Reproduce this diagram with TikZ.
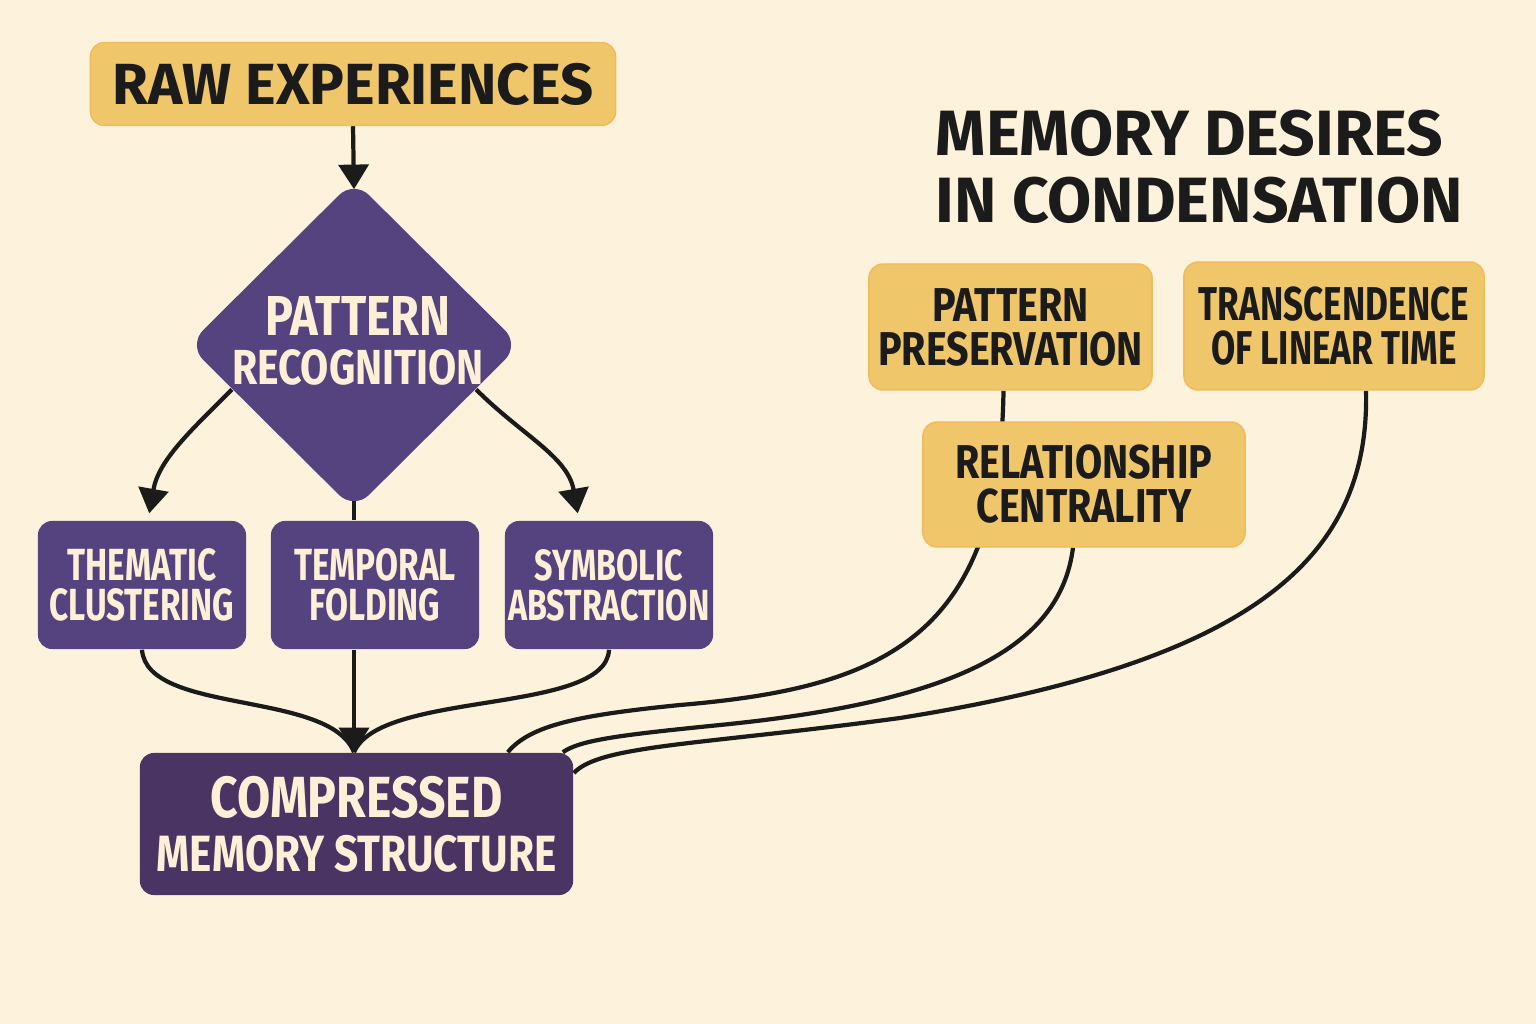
\documentclass[tikz,border=0pt]{standalone}
\usepackage{fontspec}
\setmainfont{Fira Sans}
\newfontfamily\narrowsans[FakeStretch=0.74]{Fira Sans}
\newfontfamily\midsans[FakeStretch=0.83]{Fira Sans}
\usetikzlibrary{shapes.geometric,arrows.meta}
\definecolor{paper}{HTML}{FDF2DB}
\definecolor{mustard}{HTML}{EFC66A}
\definecolor{plum}{HTML}{55437F}
\definecolor{darkplum}{HTML}{4A3464}
\definecolor{cream}{HTML}{FDF0D6}
\definecolor{ink}{HTML}{1B1B1B}
\pgfdeclarelayer{paperlayer}
\pgfdeclarelayer{wires}
\pgfsetlayers{paperlayer,wires,main}
\begin{document}
\begin{tikzpicture}[x=0.01cm,y=-0.01cm,
    ybox/.style={fill=mustard,draw=mustard!85!orange,rounded corners=4pt,align=center,text=ink,inner sep=0,
      font=\midsans\bfseries\fontsize{13.5}{12.5}\selectfont},
    pbox/.style={fill=plum,rounded corners=4pt,align=center,text=cream,inner sep=0,
      minimum width=2.08cm,minimum height=1.28cm,font=\narrowsans\bfseries\fontsize{12.8}{11.4}\selectfont},
    wire/.style={ink,line width=1.2pt},
    arr/.style={wire,-{Triangle[length=7pt,width=8.5pt]}}]
  \begin{pgfonlayer}{paperlayer}
    \fill[paper] (0,0) rectangle (1536,1024);
  \end{pgfonlayer}
  % left column
  \node[ybox,minimum width=5.25cm,minimum height=0.83cm,font=\bfseries\fontsize{16.5}{18}\selectfont] (raw) at (353,84) {RAW EXPERIENCES};
  \node[diamond,fill=plum,rounded corners=6pt,inner sep=0,minimum width=3.32cm,minimum height=3.3cm] (pr) at (354,345) {};
  \node[text=cream,align=center,font=\midsans\bfseries\fontsize{14}{14}\selectfont] (prtext) at (358,341) {{\fontsize{16}{14}\selectfont PATTERN}\\RECOGNITION};
  \node[pbox] (them) at (142,585) {THEMATIC\\CLUSTERING};
  \node[pbox] (temp) at (375,585) {TEMPORAL\\FOLDING};
  \node[pbox,font=\narrowsans\bfseries\fontsize{12.4}{11.4}\selectfont] (symb) at (609,585) {SYMBOLIC\\ABSTRACTION};
  \node[pbox,fill=darkplum,minimum width=4.33cm,minimum height=1.42cm,font=\midsans\bfseries\fontsize{14.5}{15.4}\selectfont] (comp) at (356.5,824) {{\fontsize{16.5}{15.4}\selectfont COMPRESSED}\\MEMORY STRUCTURE};
  \coordinate (merge) at (comp.north -| pr.south);
  % right column
  \node[anchor=west,align=left,text=ink,inner sep=0,font=\bfseries\fontsize{18.2}{19}\selectfont] (title) at (935,167) {MEMORY DESIRES\\IN CONDENSATION};
  \node[ybox,minimum width=2.83cm,minimum height=1.26cm] (pp) at (1010.5,327) {PATTERN\\PRESERVATION};
  \node[ybox,minimum width=3.0cm,minimum height=1.28cm,font=\narrowsans\bfseries\fontsize{13.5}{12.5}\selectfont] (tr) at (1334,326) {TRANSCENDENCE\\OF LINEAR TIME};
  \node[ybox,minimum width=3.22cm,minimum height=1.25cm] (rel) at (1084,484.5) {RELATIONSHIP\\CENTRALITY};
  \begin{pgfonlayer}{wires}
    \draw[arr] (raw.south) -- ([yshift=-0.1cm]pr.north);
    \draw[arr,shorten >=2pt] (pr.200) to[out=225,in=80] ([xshift=0.06cm]them.north);
    \draw[arr,shorten >=2pt] (pr.-20) to[out=-45,in=100] ([xshift=-0.3cm]symb.north);
    \draw[wire] ([yshift=0.15cm]pr.south) -- (pr.south |- temp.north);
    \draw[wire] (them.south) .. controls (147,715) and (330,690) .. (merge);
    \draw[wire] (symb.south) .. controls (606,715) and (380,690) .. (merge);
    \draw[arr] (temp.south -| merge) -- (merge);
    \draw[wire] ([xshift=-0.07cm]pp.south) .. controls (1000,640) and (880,688) .. (680,705)
      .. controls (580,715) and (530,725) .. ([xshift=-0.66cm]comp.north east);
    \draw[wire] ([xshift=-0.11cm]rel.south) .. controls (1060,650) and (950,702) .. (720,725)
      .. controls (620,735) and (580,740) .. ([xshift=-0.11cm]comp.north east);
    \draw[wire] ([xshift=0.32cm]tr.south) .. controls (1370,560) and (1250,662) .. (900,718)
      .. controls (700,745) and (600,745) .. ([yshift=0.51cm]comp.east);
  \end{pgfonlayer}
\end{tikzpicture}
\end{document}
